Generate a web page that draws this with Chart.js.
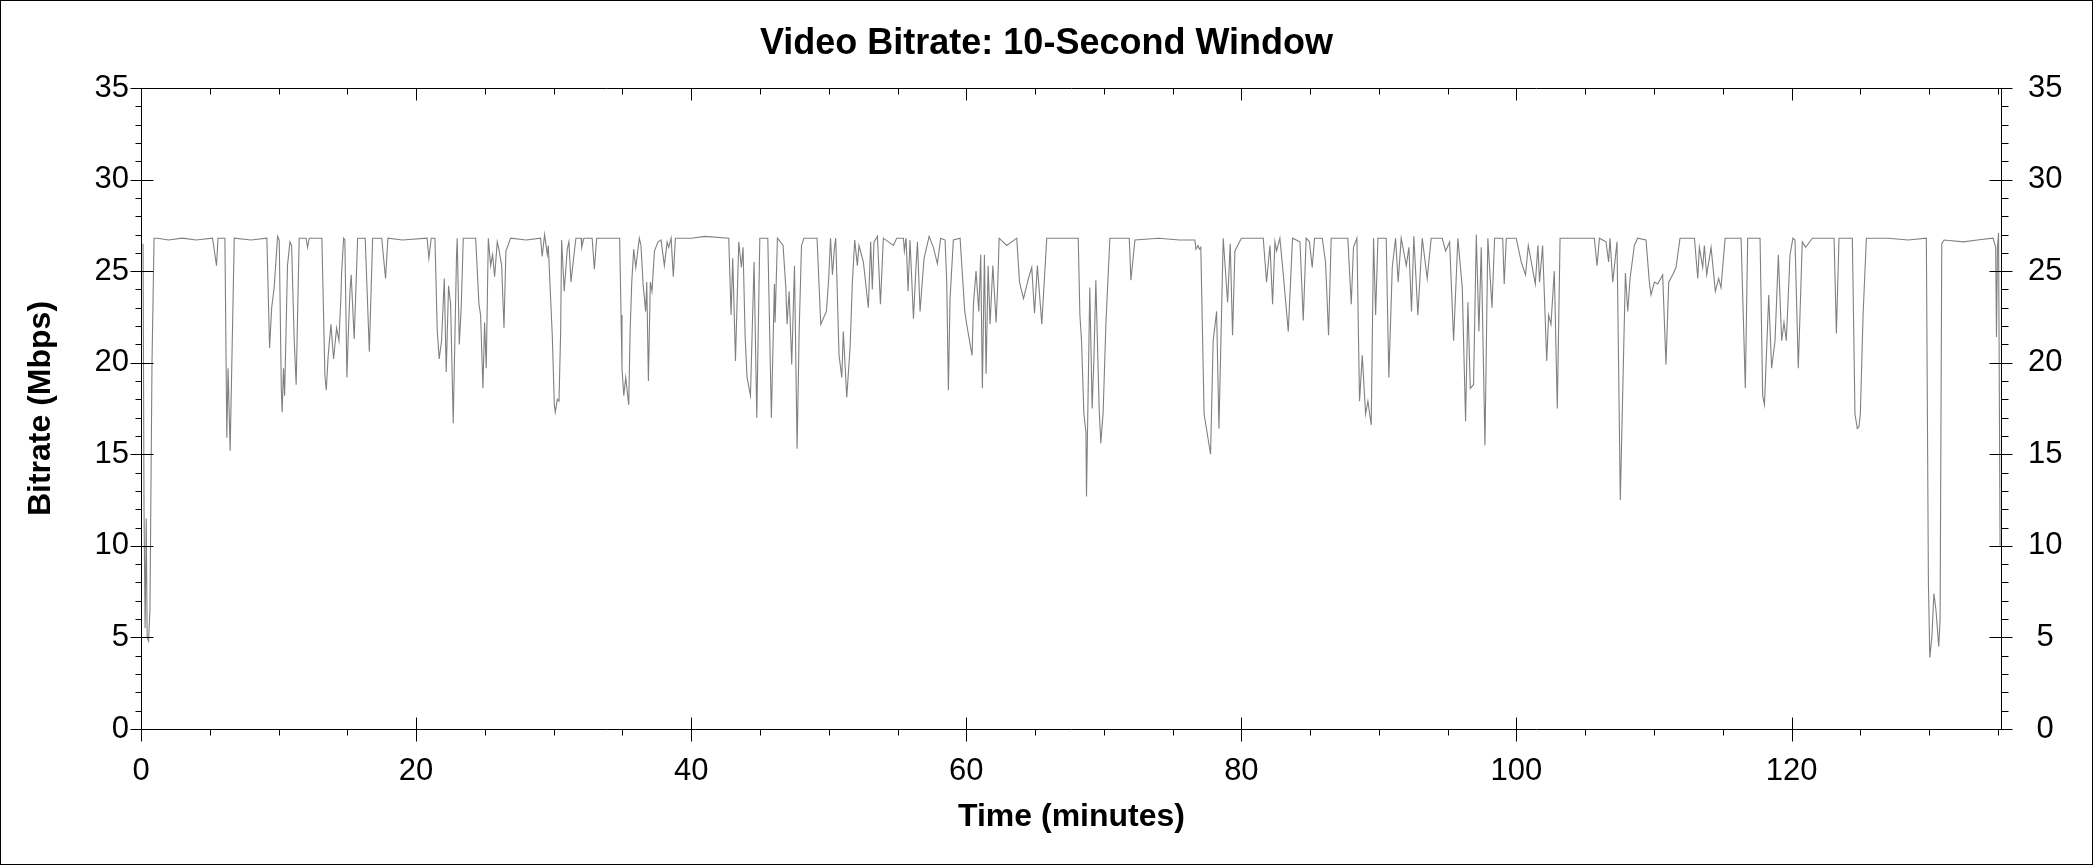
<!DOCTYPE html>
<html>
<head>
<meta charset="utf-8">
<title>Video Bitrate: 10-Second Window</title>
<script src="https://cdn.jsdelivr.net/npm/chart.js@4.4.1/dist/chart.umd.min.js"></script>
<style>
  html, body { margin: 0; padding: 0; background: #fff; }
  #wrap { width: 2093px; height: 865px; position: relative; }
</style>
</head>
<body>
<div id="wrap"><canvas id="bitrateChart"></canvas></div>
<script>
// --- Data (time in minutes, bitrate in Mbps) ---
const timeMin = [
  0.15, 0.22, 0.30, 0.38, 0.45, 0.55, 0.65, 0.80, 0.95, 1.2,
  2.0, 3.0, 4.0, 5.2, 5.49, 5.6, 6.1, 6.24, 6.33, 6.48,
  6.78, 8.0, 9.15, 9.35, 9.5, 9.68, 9.93, 10.05, 10.2, 10.26,
  10.36, 10.44, 10.65, 10.83, 10.95, 11.14, 11.28, 11.5, 12.0, 12.11,
  12.23, 13.15, 13.37, 13.47, 13.61, 13.81, 14.0, 14.22, 14.39, 14.53,
  14.58, 14.73, 14.82, 14.97, 15.06, 15.19, 15.28, 15.5, 15.75, 16.3,
  16.6, 16.84, 17.5, 17.78, 17.95, 19.0, 20.8, 20.93, 21.1, 21.37,
  21.54, 21.68, 21.85, 22.05, 22.19, 22.36, 22.51, 22.7, 22.94, 22.99,
  23.14, 23.28, 23.43, 24.33, 24.57, 24.69, 24.86, 24.98, 25.1, 25.25,
  25.42, 25.56, 25.71, 25.9, 26.02, 26.22, 26.39, 26.53, 26.68, 26.87,
  28.0, 29.05, 29.17, 29.34, 29.54, 29.61, 29.9, 30.05, 30.12, 30.27,
  30.39, 30.51, 30.58, 30.77, 30.99, 31.11, 31.26, 31.48, 31.62, 32.0,
  32.04, 32.2, 32.8, 32.96, 33.13, 34.8, 34.9, 34.97, 35.1, 35.24,
  35.46, 35.56, 35.68, 35.82, 35.97, 36.23, 36.35, 36.5, 36.69, 36.77,
  36.89, 37.03, 37.15, 37.33, 37.59, 37.81, 38.05, 38.25, 38.37, 38.54,
  38.7, 38.85, 40.0, 41.0, 42.73, 42.9, 43.02, 43.22, 43.46, 43.65,
  43.77, 43.92, 44.06, 44.31, 44.57, 44.77, 44.99, 45.57, 45.83, 46.05,
  46.1, 46.27, 46.68, 46.88, 46.97, 47.12, 47.31, 47.51, 47.7, 47.85,
  48.02, 48.2, 49.15, 49.42, 49.83, 50.0, 50.13, 50.27, 50.42, 50.51,
  50.75, 50.95, 51.06, 51.31, 51.55, 51.72, 51.89, 52.08, 52.2, 52.52,
  52.88, 53.05, 53.17, 53.29, 53.54, 53.76, 53.97, 54.7, 54.94, 55.43,
  55.5, 55.62, 55.77, 55.91, 56.16, 56.35, 56.45, 56.64, 56.93, 57.3,
  57.61, 57.9, 58.14, 58.46, 58.58, 58.7, 58.82, 59.06, 59.55, 59.89,
  60.03, 60.42, 60.52, 60.71, 60.91, 61.05, 61.17, 61.32, 61.44, 61.59,
  61.73, 61.93, 62.17, 62.29, 62.39, 62.94, 63.67, 63.87, 64.16, 64.52,
  64.76, 64.96, 65.17, 65.49, 65.85, 68.14, 68.26, 68.38, 68.55, 68.7,
  68.74, 68.98, 69.15, 69.28, 69.42, 69.66, 69.78, 69.95, 70.15, 70.44,
  71.85, 71.97, 72.26, 74.0, 75.5, 76.62, 76.7, 76.85, 76.95, 77.05,
  77.29, 77.76, 77.95, 78.2, 78.37, 78.68, 79.0, 79.19, 79.36, 79.53,
  80.0, 81.59, 81.83, 82.08, 82.27, 82.44, 82.56, 82.8, 83.05, 83.41,
  83.72, 84.26, 84.5, 84.71, 84.95, 85.15, 85.32, 85.88, 86.12, 86.34,
  86.53, 87.74, 87.99, 88.15, 88.4, 88.59, 88.79, 89.03, 89.2, 89.44,
  89.61, 89.76, 89.93, 90.53, 90.72, 90.97, 91.21, 91.4, 91.62, 91.99,
  92.18, 92.37, 92.54, 92.83, 93.15, 93.51, 93.8, 94.6, 94.85, 95.14,
  95.43, 95.74, 96.06, 96.3, 96.47, 96.64, 96.88, 97.08, 97.27, 97.44,
  97.71, 97.92, 98.22, 98.41, 99.0, 99.11, 99.26, 99.98, 100.35, 100.66,
  100.86, 101.37, 101.56, 101.68, 101.9, 102.2, 102.34, 102.51, 102.75, 102.97,
  103.17, 105.66, 105.86, 106.03, 106.51, 106.7, 106.8, 107.0, 107.31, 107.55,
  107.92, 108.09, 108.26, 108.57, 108.81, 109.42, 109.66, 109.78, 110.03, 110.27,
  110.63, 110.87, 111.07, 111.36, 111.6, 111.89, 112.94, 113.18, 113.3, 113.54,
  113.66, 113.83, 114.15, 114.46, 114.7, 114.87, 115.17, 116.33, 116.64, 116.81,
  117.71, 117.9, 118.03, 118.27, 118.34, 118.55, 118.8, 119.04, 119.28, 119.45,
  119.62, 119.89, 120.1, 120.25, 120.49, 120.78, 121.03, 121.51, 123.09, 123.26,
  123.45, 124.42, 124.61, 124.78, 124.9, 125.0, 125.2, 125.44, 127.0, 128.5,
  129.8, 129.95, 130.05, 130.2, 130.35, 130.5, 130.7, 130.8, 130.92, 131.09,
  132.5, 133.5, 134.65, 134.84, 134.9, 134.97, 135.05, 135.16
];
const bitrateMbps = [
  26.5, 12.0, 5.5, 11.5, 5.0, 4.8, 6.5, 20.0, 26.8, 26.8,
  26.7, 26.8, 26.7, 26.8, 25.3, 26.8, 26.8, 15.9, 19.7, 15.2,
  26.8, 26.7, 26.8, 20.8, 23.0, 24.1, 26.9, 26.7, 18.6, 17.3,
  19.7, 18.2, 25.3, 26.6, 26.4, 21.2, 18.8, 26.8, 26.8, 26.3,
  26.8, 26.8, 19.3, 18.5, 20.4, 22.1, 20.2, 21.9, 21.2, 23.5,
  24.8, 26.8, 26.7, 19.2, 21.3, 23.9, 24.8, 21.3, 26.8, 26.8,
  20.6, 26.8, 26.8, 24.6, 26.8, 26.7, 26.8, 25.7, 26.8, 26.8,
  21.7, 20.2, 21.2, 24.6, 19.5, 24.2, 23.2, 16.7, 25.9, 26.8,
  21.0, 23.0, 26.8, 26.8, 23.2, 22.6, 18.6, 22.2, 19.7, 26.8,
  25.3, 25.9, 24.7, 26.6, 26.2, 25.3, 21.9, 26.1, 26.4, 26.8,
  26.7, 26.8, 25.8, 27.0, 25.9, 26.4, 21.5, 17.7, 17.3, 18.0,
  17.9, 21.7, 26.7, 23.9, 26.2, 26.6, 24.4, 25.9, 26.8, 26.8,
  26.3, 26.8, 26.8, 25.1, 26.8, 26.8, 22.6, 19.7, 18.2, 19.2,
  17.7, 21.7, 24.4, 26.2, 25.2, 26.8, 26.4, 24.3, 22.8, 24.4,
  19.0, 24.4, 23.9, 26.1, 26.6, 26.7, 25.3, 26.6, 26.3, 26.8,
  24.7, 26.8, 26.8, 26.9, 26.8, 22.6, 25.7, 20.1, 26.6, 25.2,
  26.3, 21.5, 19.2, 18.2, 25.5, 17.0, 26.8, 26.8, 17.0, 24.3,
  22.2, 26.8, 26.4, 24.1, 22.1, 23.9, 19.9, 25.3, 15.3, 21.7,
  26.4, 26.8, 26.8, 22.1, 22.8, 24.6, 26.8, 24.8, 26.3, 26.8,
  20.4, 19.2, 21.7, 18.1, 20.8, 24.4, 26.7, 25.3, 26.4, 25.5,
  23.0, 26.6, 24.0, 26.6, 26.9, 23.2, 26.8, 26.4, 26.8, 26.8,
  26.1, 26.8, 23.9, 26.7, 22.4, 25.3, 26.6, 22.8, 25.7, 26.9,
  26.3, 25.4, 26.8, 26.7, 24.4, 18.5, 23.5, 26.7, 26.8, 22.8,
  22.1, 20.4, 23.2, 25.0, 22.8, 25.9, 18.6, 25.9, 19.4, 25.3,
  22.1, 25.3, 22.2, 24.3, 26.8, 26.4, 26.8, 24.4, 23.5, 24.6,
  25.2, 22.7, 25.3, 22.1, 26.8, 26.8, 22.6, 21.2, 17.2, 16.2,
  12.7, 24.1, 17.5, 20.2, 24.5, 17.5, 15.6, 17.3, 22.1, 26.8,
  26.8, 24.5, 26.7, 26.8, 26.7, 26.7, 26.2, 26.4, 26.2, 26.3,
  17.2, 15.0, 21.2, 22.8, 16.4, 26.8, 23.3, 26.5, 21.5, 26.1,
  26.8, 26.8, 24.4, 26.4, 23.2, 26.6, 26.1, 26.8, 24.8, 21.7,
  26.8, 26.6, 22.3, 26.8, 26.6, 25.2, 26.8, 26.8, 25.5, 21.5,
  26.8, 26.8, 23.2, 26.3, 26.8, 17.9, 20.4, 17.2, 17.9, 16.6,
  26.8, 22.6, 26.8, 26.8, 19.2, 25.2, 26.8, 24.4, 26.8, 25.3,
  26.3, 22.8, 26.9, 22.6, 26.8, 24.6, 26.8, 26.8, 26.1, 26.6,
  21.2, 26.8, 24.1, 16.8, 23.3, 18.6, 18.8, 27.0, 21.7, 26.3,
  15.5, 26.8, 23.0, 26.8, 26.8, 24.3, 26.8, 26.8, 25.5, 24.8,
  26.4, 24.3, 26.4, 24.4, 26.4, 20.1, 22.6, 22.1, 25.0, 17.5,
  26.8, 26.8, 25.3, 26.8, 26.6, 25.5, 26.8, 24.4, 26.6, 12.5,
  24.9, 22.8, 24.6, 26.4, 26.8, 26.7, 24.4, 23.7, 24.4, 24.3,
  24.8, 19.9, 24.4, 24.8, 25.2, 26.8, 26.8, 24.6, 26.3, 25.2,
  26.4, 24.8, 26.3, 23.9, 24.6, 24.1, 26.8, 26.8, 18.6, 26.8,
  26.8, 18.2, 17.7, 22.3, 23.7, 19.7, 21.2, 25.9, 21.2, 22.2,
  21.2, 25.9, 26.8, 26.7, 19.7, 26.6, 26.3, 26.8, 26.8, 21.6,
  26.8, 26.8, 17.2, 16.4, 16.5, 17.2, 22.6, 26.8, 26.8, 26.7,
  26.8, 8.0, 3.9, 5.0, 7.4, 6.5, 4.5, 6.0, 26.5, 26.7,
  26.6, 26.7, 26.8, 26.3, 21.4, 26.3, 27.1, 10.0
];

const TIME_MAX = 135.3;
const RATE_MAX = 35;
const FONT = "'Liberation Sans', Arial, Helvetica, sans-serif";

// Axis frame with crossing major ticks and short minor ticks
const frameTicks = {
  id: 'frameTicks',
  afterDraw(chart) {
    const { ctx, chartArea: a, scales: { x, y } } = chart;
    const L = Math.round(a.left) + 0.5;
    const R = Math.round(a.right) - 0.5;
    const T = Math.round(a.top) + 0.5;
    const B = Math.round(a.bottom) + 0.5;
    ctx.save();
    ctx.strokeStyle = '#000';
    ctx.lineWidth = 1;
    ctx.beginPath();
    ctx.rect(L, T, R - L, B - T);
    // y ticks (left and right)
    for (let v = 0; v <= RATE_MAX; v++) {
      const py = Math.round(y.getPixelForValue(v)) + 0.5;
      if (v % 5 === 0) {
        ctx.moveTo(L - 11, py); ctx.lineTo(L + 12, py);
        ctx.moveTo(R - 12, py); ctx.lineTo(R + 11, py);
      } else {
        ctx.moveTo(L - 6, py); ctx.lineTo(L, py);
        ctx.moveTo(R, py); ctx.lineTo(R + 7, py);
      }
    }
    // x ticks (bottom and top)
    for (let t = 0; t <= TIME_MAX; t += 5) {
      const px = Math.round(x.getPixelForValue(t)) + 0.5;
      if (t % 20 === 0) {
        ctx.moveTo(px, B - 12); ctx.lineTo(px, B + 12);
        ctx.moveTo(px, T); ctx.lineTo(px, T + 12);
      } else {
        ctx.moveTo(px, B); ctx.lineTo(px, B + 6);
        ctx.moveTo(px, T); ctx.lineTo(px, T + 6);
      }
    }
    ctx.stroke();
    // outer border of the picture
    ctx.strokeRect(0.5, 0.5, chart.width - 1, chart.height - 1);
    ctx.restore();
  }
};

const tickFont = { family: FONT, size: 31 };
const titleFont = { family: FONT, size: 32, weight: 'bold' };

new Chart(document.getElementById('bitrateChart'), {
  type: 'line',
  data: {
    datasets: [{
      data: timeMin.map((t, i) => ({ x: t, y: bitrateMbps[i] })),
      borderColor: '#808080',
      borderWidth: 1.1,
      pointRadius: 0,
      tension: 0,
      fill: false
    }]
  },
  options: {
    responsive: true,
    maintainAspectRatio: false,
    devicePixelRatio: 1,
    animation: false,
    layout: { padding: 0 },
    plugins: {
      legend: { display: false },
      tooltip: { enabled: false },
      title: {
        display: true,
        text: 'Video Bitrate: 10-Second Window',
        color: '#000',
        font: { family: FONT, size: 36, weight: 'bold' },
        padding: { top: 22, bottom: 22.8 }
      }
    },
    scales: {
      x: {
        type: 'linear',
        position: 'bottom',
        min: 0,
        max: TIME_MAX,
        grid: { display: false, drawTicks: false },
        border: { display: false },
        ticks: { stepSize: 20, includeBounds: false, autoSkip: false, maxRotation: 0, padding: 24, color: '#000', font: tickFont },
        title: { display: true, text: 'Time (minutes)', color: '#000', font: titleFont, padding: { top: 0, bottom: 29 } },
        afterFit: s => { s.height = 136; }
      },
      y: {
        type: 'linear',
        position: 'left',
        min: 0,
        max: RATE_MAX,
        grid: { display: false, drawTicks: false },
        border: { display: false },
        ticks: { stepSize: 5, padding: 12, color: '#000', font: tickFont },
        title: { display: true, text: 'Bitrate (Mbps)', color: '#000', font: titleFont, padding: { top: 22, bottom: 0 } },
        afterFit: s => { s.width = 141; }
      },
      y2: {
        type: 'linear',
        position: 'right',
        min: 0,
        max: RATE_MAX,
        grid: { display: false, drawTicks: false },
        border: { display: false },
        ticks: { stepSize: 5, padding: 26, crossAlign: 'center', color: '#000', font: tickFont },
        afterFit: s => { s.width = 91; }
      }
    }
  },
  plugins: [frameTicks]
});
</script>
</body>
</html>
